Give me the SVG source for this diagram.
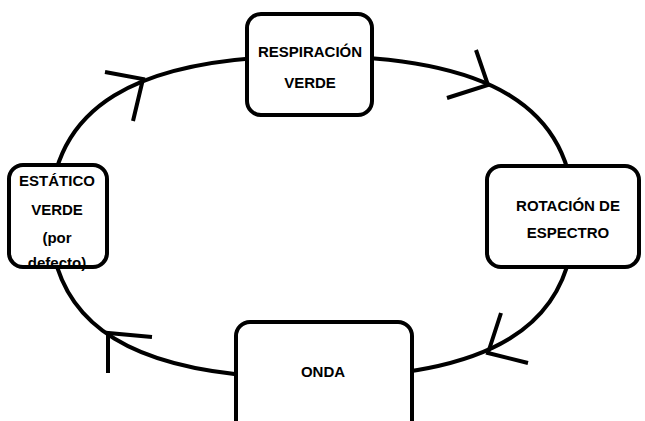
<svg xmlns="http://www.w3.org/2000/svg" width="645" height="421" viewBox="0 0 645 421">
<style>
.ln{fill:none;stroke:#000;stroke-width:4;stroke-linecap:butt;stroke-linejoin:miter}
.box{fill:#fff;stroke:#000;stroke-width:4}
.t{font-family:"Liberation Sans",Arial,sans-serif;font-weight:bold;font-size:15px;fill:#000;text-anchor:middle}
</style>
<rect width="645" height="421" fill="#fff"/>
<g id="connectors">
<path class="ln" d="M312,56 C490,56 574,107.5 574,217 C574,326.5 490,378 312,378 C134,378 50,326.5 50,217 C50,107.5 134,56 312,56 Z"/>
<polyline class="ln" points="105,72 143,79 133,121"/>
<polyline class="ln" points="476,50 488,85 447,98"/>
<polyline class="ln" points="501,313 488,353 528,363"/>
<polyline class="ln" points="152,337 108,333 108,373"/>
</g>
<g id="respiracion">
<rect class="box" x="247" y="14" width="125" height="101" rx="14"/>
<text class="t" x="310" y="57">RESPIRACIÓN</text>
<text class="t" x="310" y="88">VERDE</text>
</g>
<g id="estatico">
<rect class="box" x="9" y="165" width="98" height="102" rx="14"/>
<text class="t" x="57" y="186">ESTÁTICO</text>
<text class="t" x="57" y="215">VERDE</text>
<text class="t" x="57" y="243">(por</text>
<text class="t" x="57" y="268">defecto)</text>
</g>
<g id="rotacion">
<rect class="box" x="487" y="166" width="152" height="101" rx="14"/>
<text class="t" x="568" y="211">ROTACIÓN DE</text>
<text class="t" x="568" y="238">ESPECTRO</text>
</g>
<g id="onda">
<rect class="box" x="236" y="322" width="176" height="112" rx="14"/>
<text class="t" x="323" y="377">ONDA</text>
</g>
</svg>
